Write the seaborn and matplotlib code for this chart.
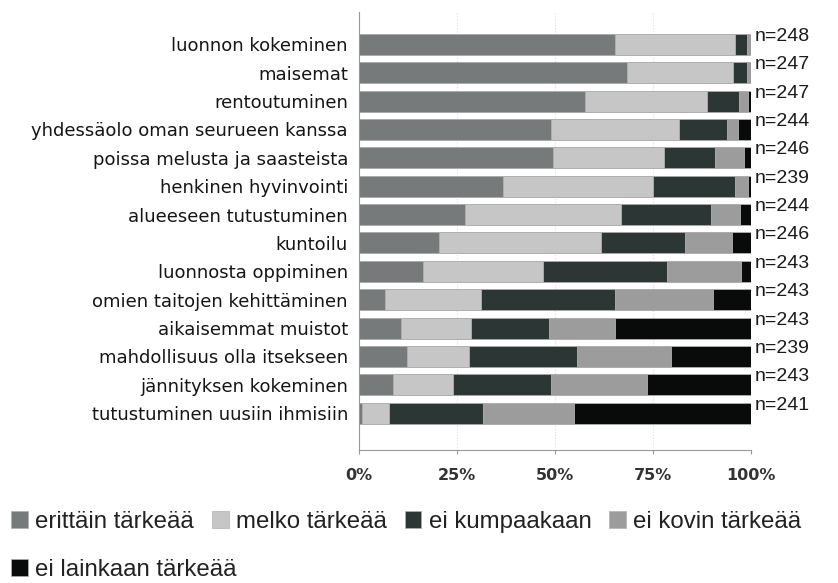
import numpy as np
import pandas as pd
import matplotlib
matplotlib.use("Agg")
import matplotlib.pyplot as plt
from matplotlib.patches import Patch
import seaborn as sns

# data (percent of answers per activity)
aktiviteetit = [
    "luonnon kokeminen", "maisemat", "rentoutuminen",
    "yhdessäolo oman seurueen kanssa", "poissa melusta ja saasteista",
    "henkinen hyvinvointi", "alueeseen tutustuminen", "kuntoilu",
    "luonnosta oppiminen", "omien taitojen kehittäminen",
    "aikaisemmat muistot", "mahdollisuus olla itsekseen",
    "jännityksen kokeminen", "tutustuminen uusiin ihmisiin",
]
n_vastaajat = [248, 247, 247, 244, 246, 239, 244, 246, 243, 243, 243, 239, 243, 241]

erittain = [65.4, 68.3, 57.7, 49.0, 49.5, 36.8, 27.0, 20.5, 16.4, 6.7, 10.8, 12.3, 8.7, 0.7]
melko = [30.5, 27.0, 31.1, 32.7, 28.4, 38.2, 39.8, 41.2, 30.5, 24.5, 17.8, 15.8, 15.3, 6.9]
ei_kumpaakaan = [3.0, 3.6, 8.1, 12.1, 12.8, 20.9, 23.0, 21.5, 31.6, 34.2, 19.9, 27.5, 25.0, 24.1]
ei_kovin = [1.1, 1.1, 2.4, 2.8, 7.6, 3.3, 7.4, 11.9, 18.9, 24.8, 16.9, 23.9, 24.4, 23.2]
ei_lainkaan = [0.0, 0.0, 0.7, 3.4, 1.7, 0.8, 2.8, 4.9, 2.6, 9.8, 34.6, 20.5, 26.6, 45.1]

tasot = ["erittäin tärkeää", "melko tärkeää", "ei kumpaakaan", "ei kovin tärkeää", "ei lainkaan tärkeää"]
varit = ["#777a7a", "#c6c6c6", "#2c3634", "#9c9c9c", "#080b0a"]

df = pd.DataFrame({
    "aktiviteetti": aktiviteetit,
    tasot[0]: erittain,
    tasot[1]: melko,
    tasot[2]: ei_kumpaakaan,
    tasot[3]: ei_kovin,
    tasot[4]: ei_lainkaan,
})
cum = df[tasot].cumsum(axis=1)

sns.set_style("white")
plt.rcParams["font.family"] = ["DejaVu Sans"]

fig = plt.figure(figsize=(8.38, 5.83), dpi=100)
ax = fig.add_axes([0.4284, 0.2281, 0.4678, 0.7509])

# stacked bars: draw cumulative totals from the largest down
for taso, vari in reversed(list(zip(tasot, varit))):
    sns.barplot(x=cum[taso], y=df["aktiviteetti"], orient="h", color=vari,
                saturation=1, width=0.74, edgecolor="#b0b0b0", linewidth=0.6, ax=ax)

for i, n in enumerate(n_vastaajat):
    ax.text(101, i - 0.28, f"n={n}", ha="left", va="center", fontsize=14,
            family="Liberation Sans", color="#1a1a1a", clip_on=False)

ax.set_xlim(0, 100)
ax.set_ylim(14.3, -1.13)
ax.set_xticks([0, 25, 50, 75, 100])
ax.set_xticklabels(["0%", "25%", "50%", "75%", "100%"], fontweight="bold")
ax.set_xlabel("")
ax.set_ylabel("")
ax.tick_params(axis="x", length=3, width=0.8, color="#999999", pad=10,
               labelsize=11.5, labelcolor="#333333", bottom=True)
ax.tick_params(axis="y", length=0, pad=8, labelsize=13, labelcolor="#151515")
ax.xaxis.grid(True, color="#dddddd", linestyle=":", linewidth=0.8)
ax.set_axisbelow(True)
sns.despine(ax=ax, top=True, right=True)
ax.spines["left"].set_color("#999999")
ax.spines["bottom"].set_color("#999999")

# legend in two rows
kahvat = [Patch(facecolor=v, edgecolor="#b0b0b0", linewidth=0.5) for v in varit]
leg_opts = dict(frameon=False, handlelength=0.7, handleheight=0.7,
                handletextpad=0.3, columnspacing=0.75, borderpad=0, borderaxespad=0,
                prop={"family": "Liberation Sans", "size": 17.3})
fig.legend(kahvat[:4], tasot[:4], ncol=4, loc="center left",
           bbox_to_anchor=(0.013, 0.1046), labelcolor="#222222", **leg_opts)
fig.legend(kahvat[4:], tasot[4:], ncol=1, loc="center left",
           bbox_to_anchor=(0.013, 0.0223), labelcolor="#222222", **leg_opts)

fig.savefig("out.png", dpi=100)
